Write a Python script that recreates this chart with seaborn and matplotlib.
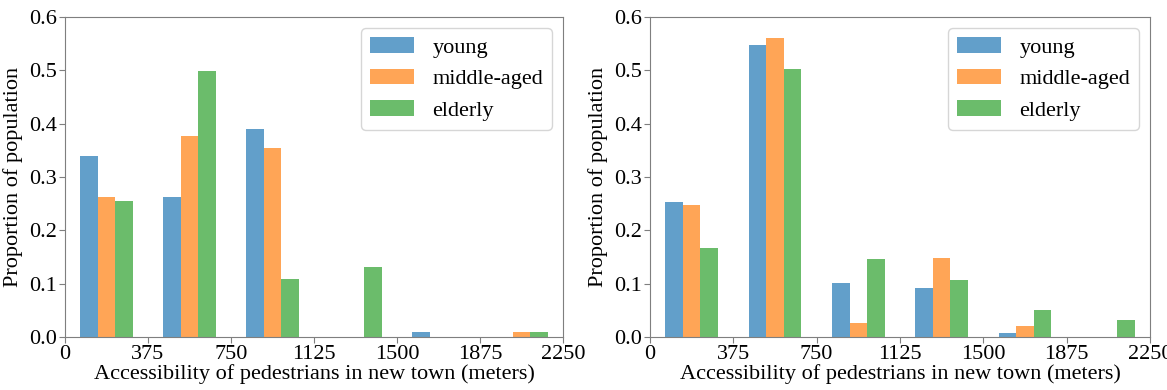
import pandas as pd
import matplotlib
matplotlib.use('Agg')
import matplotlib.pyplot as plt
import matplotlib.patches as mpatches
import seaborn as sns
import numpy as np

# Data: proportion of population per 375 m accessibility bin
BIN_EDGES = [0, 375, 750, 1125, 1500, 1875, 2250]
GROUPS = ['young', 'middle-aged', 'elderly']

left_young   = [0.340, 0.262, 0.390, 0.000, 0.010, 0.000]
left_middle  = [0.262, 0.376, 0.354, 0.000, 0.000, 0.010]
left_elderly = [0.255, 0.498, 0.108, 0.131, 0.000, 0.010]

right_young   = [0.254, 0.548, 0.102, 0.091, 0.007, 0.000]
right_middle  = [0.247, 0.560, 0.026, 0.148, 0.020, 0.000]
right_elderly = [0.166, 0.503, 0.146, 0.106, 0.051, 0.031]

XTICKS = [0, 375, 750, 1125, 1500, 1875, 2250]
YTICKS = [0.0, 0.1, 0.2, 0.3, 0.4, 0.5, 0.6]
XLABEL = 'Accessibility of pedestrians in new town (meters)'
YLABEL = 'Proportion of population'

COLORS = ['#1f77b4', '#ff7f0e', '#2ca02c']
ALPHA = 0.7

plt.rcParams.update({
    'font.family': ['Liberation Serif', 'DejaVu Serif'],
    'font.size': 16,
    'axes.edgecolor': '#7f7f7f',
})


def to_frame(young, middle, elderly):
    centers = [(a + b) / 2 for a, b in zip(BIN_EDGES[:-1], BIN_EDGES[1:])]
    rows = []
    for name, vals in zip(GROUPS, [young, middle, elderly]):
        for c, v in zip(centers, vals):
            rows.append({'x': c, 'w': v, 'group': name})
    return pd.DataFrame(rows)


fig = plt.figure(figsize=(11.67, 3.9), dpi=100)
ax1 = fig.add_axes([65 / 1167, 1 - 337 / 390, 498 / 1167, 320 / 390])
ax2 = fig.add_axes([650 / 1167, 1 - 337 / 390, 500 / 1167, 320 / 390])

panels = [
    (ax1, to_frame(left_young, left_middle, left_elderly)),
    (ax2, to_frame(right_young, right_middle, right_elderly)),
]

for ax, df in panels:
    sns.histplot(data=df, x='x', weights='w', hue='group', hue_order=GROUPS,
                 bins=BIN_EDGES, multiple='dodge', shrink=0.635,
                 palette=COLORS, alpha=ALPHA, linewidth=0, legend=False, ax=ax)

    ax.set_xlim(0, 2250)
    ax.set_ylim(0, 0.6)
    ax.set_xticks(XTICKS)
    ax.set_yticks(YTICKS)
    ax.set_xticklabels([str(t) for t in XTICKS])
    ax.set_yticklabels([f'{t:.1f}' for t in YTICKS])
    ax.set_xlabel(XLABEL, labelpad=0)
    ax.set_ylabel(YLABEL, labelpad=4)
    ax.tick_params(labelsize=16, length=4, color='#7f7f7f', pad=2)

    handles = [mpatches.Patch(facecolor=c, alpha=ALPHA, label=g)
               for c, g in zip(COLORS, GROUPS)]
    ax.legend(handles=handles, loc='upper right', fontsize=16)

plt.savefig('out.png', dpi=100)
plt.close()
